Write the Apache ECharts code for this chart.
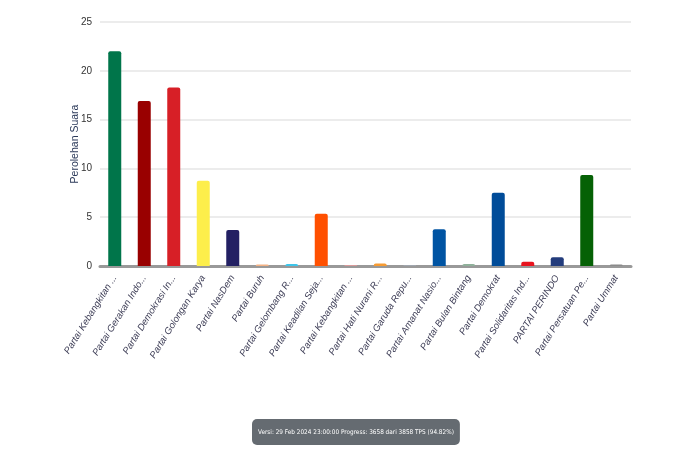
<!DOCTYPE html>
<html>
<head>
<meta charset="utf-8">
<script src="https://cdn.jsdelivr.net/npm/echarts@6/dist/echarts.min.js"></script>
<style>
html, body { margin: 0; padding: 0; background: #fff; }
#chart { width: 700px; height: 465px; }
</style>
</head>
<body>
<div id="chart"></div>
<script>
// nama partai (sumbu x)
var partai = [
    'Partai Kebangkitan Bangsa', 'Partai Gerakan Indonesia Raya', 'Partai Demokrasi Indonesia Perjuangan',
    'Partai Golongan Karya', 'Partai NasDem', 'Partai Buruh', 'Partai Gelombang Rakyat Indonesia',
    'Partai Keadilan Sejahtera', 'Partai Kebangkitan Nusantara', 'Partai Hati Nurani Rakyat',
    'Partai Garuda Republik Indonesia', 'Partai Amanat Nasional', 'Partai Bulan Bintang',
    'Partai Demokrat', 'Partai Solidaritas Indonesia', 'PARTAI PERINDO',
    'Partai Persatuan Pembangunan', 'Partai Ummat'
];
// perolehan suara (%)
var suara = [22.0, 16.9, 18.3, 8.74, 3.69, 0.15, 0.2, 5.36, 0.1, 0.25, 0.05, 3.76, 0.2, 7.51, 0.44, 0.89, 9.32, 0.15];
var warna = [
    '#00754a', '#990000', '#d71f26', '#fdee4b', '#232063', '#f4b183', '#3ec5ea',
    '#ff5000', '#d99a9a', '#f79b32', '#a8b4c4', '#0054a3', '#8fb09a',
    '#004c99', '#e8141f', '#233c7c', '#056105', '#8a8a8a'
];
var yTicks = [0, 5, 10, 15, 20, 25];
var keterangan = 'Versi: 29 Feb 2024 23:00:00 Progress: 3658 dari 3858 TPS (94.82%)';

var chart = echarts.init(document.getElementById('chart'));
chart.setOption({
    animation: false,
    backgroundColor: '#fff',
    title: {
        text: keterangan,
        left: 252,
        top: 419,
        padding: [10, 6, 10, 6],
        backgroundColor: '#656b71',
        borderRadius: 5,
        textStyle: {
            color: '#fff',
            fontFamily: '"DejaVu Sans Condensed", "Liberation Sans Narrow", sans-serif',
            fontSize: 6.4,
            fontWeight: 'normal'
        }
    },
    grid: { left: 100, right: 69, top: 22, bottom: 199 },
    xAxis: {
        type: 'category',
        data: partai,
        axisLine: { show: true, lineStyle: { color: '#999', width: 3 } },
        axisTick: { show: false },
        axisLabel: {
            interval: 0,
            rotate: 58,
            margin: 10,
            width: 98,
            overflow: 'truncate',
            ellipsis: '...',
            fontStyle: 'italic',
            fontSize: 9.5,
            fontFamily: '"Liberation Sans", Arial, sans-serif',
            color: '#3c3c55'
        }
    },
    yAxis: {
        type: 'value',
        min: yTicks[0],
        max: yTicks[yTicks.length - 1],
        interval: 5,
        name: 'Perolehan Suara',
        nameLocation: 'middle',
        nameGap: 19,
        nameMoveOverlap: false,
        nameTextStyle: { color: '#2c3a5a', fontSize: 10.5, fontFamily: '"Liberation Sans", Arial, sans-serif' },
        axisLine: { show: false },
        axisTick: { show: false },
        axisLabel: { color: '#333', fontSize: 10, margin: 8, fontFamily: '"Liberation Sans", Arial, sans-serif' },
        splitLine: { lineStyle: { color: '#ececec', width: 2 } }
    },
    series: [{
        type: 'bar',
        barWidth: 13,
        data: suara.map(function (v, i) {
            return { value: v, itemStyle: { color: warna[i] } };
        }),
        itemStyle: { borderRadius: [2, 2, 0, 0] }
    }]
});
</script>
</body>
</html>
